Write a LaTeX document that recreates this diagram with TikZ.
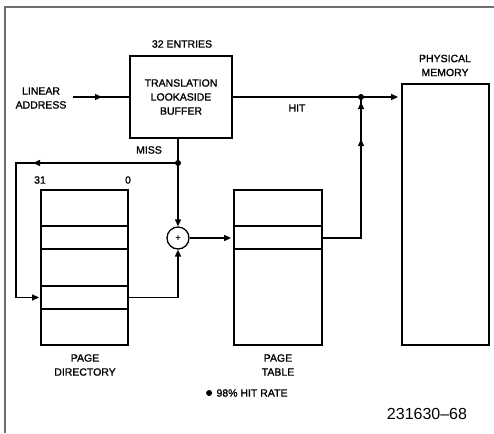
\documentclass[tikz,border=0pt]{standalone}
\usepackage{fontspec}
\setmainfont{Liberation Sans}
\newfontfamily\lblfont{Liberation Sans}[UprightFeatures={FakeBold=1.3}]
\usetikzlibrary{arrows.meta, positioning, decorations.markings}
\definecolor{sheetgray}{RGB}{110, 110, 110}
\tikzset{
  box/.style={
    rectangle, draw, line width=1.8pt, inner sep=0pt
  },
  lbl/.style={
    font=\lblfont\fontsize{10.5}{14}\selectfont, align=center, inner sep=1pt
  },
  conn/.style={line width=1.4pt},
  arrowtip/.style={-{Triangle[length=7pt,width=6pt]}},
  midarrow/.style={
    postaction={decorate, decoration={markings,
      mark=at position #1 with {\arrow{Triangle[length=7pt,width=6pt]}}}}
  },
  joint/.style={circle, fill, inner sep=0pt, minimum size=6pt},
  rowline/.style={line width=1.1pt},
  sheet/.style={draw=sheetgray, line width=1.5pt},
}
\begin{document}
\begin{tikzpicture}[x=1pt, y=-1pt]
  \useasboundingbox (0,0) rectangle (494,433);

  % Frame
  \draw[sheet] (5,433) -- (5,7) -- (494,7);

  % Nodes
  \node[box, lbl, minimum width=102pt, minimum height=82pt] (tlb) at (181,97)
    {TRANSLATION\\LOOKASIDE\\BUFFER};
  \node[lbl] (entries) at (182,44) {32 ENTRIES};
  \node[lbl] (linaddr) at (41,98) {LINEAR\\ADDRESS};

  \node[box, minimum width=87pt, minimum height=155pt] (pd)  at (84.5,267.5) {};
  \node[box, minimum width=88pt, minimum height=155pt] (pt)  at (278,267.5)  {};
  \node[box, minimum width=87pt, minimum height=261pt] (mem) at (445.5,214.5) {};

  \node[circle, draw, line width=1.3pt, minimum size=22pt, inner sep=0pt,
        font=\lblfont\fontsize{9}{9}\selectfont] (adder) at (178,238) {+};

  \node[joint] (hitdot)  at (361,97) {};
  \node[joint] (missdot) at (178,163) {};
  \coordinate (lafree)     at (73,97);
  \coordinate (misscorner) at (16,163);
  \coordinate (pdentry)    at (pd.west |- 0,297.5);

  % Table rows
  \foreach \y in {226,249,286,309}
    \draw[rowline] (pd.west |- 0,\y) -- (pd.east |- 0,\y);
  \foreach \y in {226,249}
    \draw[rowline] (pt.west |- 0,\y) -- (pt.east |- 0,\y);

  % Labels
  \node[lbl] (hit)     at (297,108)  {HIT};
  \node[lbl] (miss)    at (149,150)  {MISS};
  \node[lbl] (hibit)   at (40,180)   {31};
  \node[lbl] (lobit)   at (128,180)  {0};
  \node[lbl] (pdname)  at (85,365)   {PAGE\\DIRECTORY};
  \node[lbl] (ptname)  at (278,365)  {PAGE\\TABLE};
  \node[lbl] (memname) at (445,65.5) {PHYSICAL\\MEMORY};
  \node[lbl] (rate)    at (252,393)  {98\% HIT RATE};
  \node[joint, left=3pt of rate] (bullet) {};
  \node[font=\fontsize{16}{16}\selectfont] (fignum) at (427,414) {231630--68};

  % Arrows
  \draw[conn, midarrow=29pt] (lafree) -- (tlb.west |- lafree);
  \draw[conn, arrowtip, shorten >=3pt] (tlb.east |- hitdot) -- (mem.west |- hitdot);
  \draw[conn, midarrow=137pt, midarrow=174pt]
    (pt.east |- adder) -- (hitdot |- adder) -- (hitdot.center);
  \draw[conn, arrowtip] (adder |- tlb.south) -- (adder.north);
  \draw[conn, midarrow=145pt, arrowtip, shorten >=1pt]
    (missdot.center) -- (misscorner) -- (misscorner |- pdentry) -- (pdentry);
  \draw[conn, arrowtip] (pd.east |- pdentry) -- (adder |- pdentry) -- (adder.south);
  \draw[conn, arrowtip, shorten >=2pt] (adder.east) -- (pt.west |- adder);

\end{tikzpicture}
\end{document}
